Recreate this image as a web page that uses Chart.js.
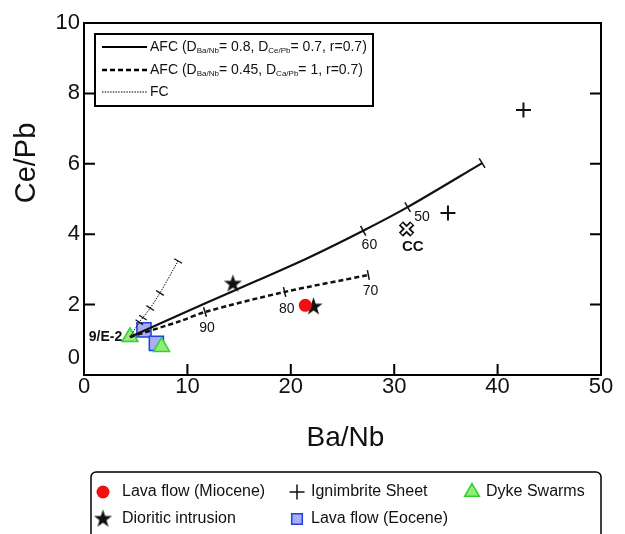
<!DOCTYPE html>
<html>
<head>
<meta charset="utf-8">
<script src="https://cdn.jsdelivr.net/npm/chart.js@4.4.1/dist/chart.umd.min.js"></script>
<style>
  html, body { margin: 0; padding: 0; background: #fff; }
  canvas { display: block; }
</style>
</head>
<body>
<canvas id="geoChart" width="625" height="534"></canvas>
<script>
// samples (Ba/Nb, Ce/Pb)
const lavaMioceneX = [21.4];
const lavaMioceneY = [1.98];
const dioriticX = [14.4, 22.2];
const dioriticY = [2.59, 1.94];
const ignimbriteX = [42.5, 35.2];
const ignimbriteY = [7.53, 4.60];
const lavaEoceneX = [5.8, 7.0];
const lavaEoceneY = [1.28, 0.90];
const dykeX = [4.45, 7.5];
const dykeY = [1.08, 0.80];
const ccX = [31.2];
const ccY = [4.15];

// model curves starting at 9/E-2
const afc1X = [4.45, 9.3, 14.4, 21.6, 27.0, 31.3, 38.5];
const afc1Y = [1.08, 1.72, 2.38, 3.32, 4.10, 4.77, 6.02];
const afc2X = [4.45, 9.3, 11.7, 19.4, 27.5];
const afc2Y = [1.08, 1.53, 1.79, 2.36, 2.84];
const fcX = [4.45, 5.35, 5.7, 6.4, 7.35, 9.1];
const fcY = [1.08, 1.50, 1.63, 1.90, 2.33, 3.24];

// F marks along the curves
const afc1TickX = [27.0, 31.3, 38.5];
const afc1TickY = [4.10, 4.77, 6.02];
const afc2TickX = [11.7, 19.4, 27.5];
const afc2TickY = [1.79, 2.36, 2.84];
const fcTickX = [5.35, 5.7, 6.4, 7.35, 9.1];
const fcTickY = [1.50, 1.63, 1.90, 2.33, 3.24];

const curveLabels = ["90", "80", "70", "60", "50", "CC", "9/E-2"];
const curveLabelX = [11.9, 19.6, 27.7, 27.6, 32.7, 31.8, 3.7];
const curveLabelY = [1.34, 1.88, 2.39, 3.69, 4.49, 3.64, 1.08];

const xTicks = [0, 10, 20, 30, 40, 50];
const yTicks = [0, 2, 4, 6, 8, 10];

const FONT = '"Liberation Sans", Arial, sans-serif';

function toPoints(xs, ys) {
  return xs.map((x, i) => ({ x: x, y: ys[i] }));
}

function makeStar(outer, inner, color) {
  const c = document.createElement('canvas');
  const s = Math.ceil(outer * 2 + 2);
  c.width = s;
  c.height = s;
  const g = c.getContext('2d');
  g.fillStyle = color;
  g.beginPath();
  for (let i = 0; i < 10; i++) {
    const r = i % 2 ? inner : outer;
    const ang = -Math.PI / 2 + i * Math.PI / 5;
    g.lineTo(s / 2 + r * Math.cos(ang), s / 2 + r * Math.sin(ang));
  }
  g.closePath();
  g.fill();
  return c;
}

const starImg = makeStar(9.5, 3.7, '#111');

// text with subscripts, parts = [[text, isSub], ...]
function drawRich(ctx, parts, x, y) {
  parts.forEach(p => {
    ctx.font = p[1] ? '8px ' + FONT : '14px ' + FONT;
    ctx.fillText(p[0], x, p[1] ? y + 4 : y);
    x += ctx.measureText(p[0]).width;
  });
}

function legendMarker(ctx, style, x, y, radius, fill, stroke, lw) {
  ctx.save();
  ctx.fillStyle = fill;
  ctx.strokeStyle = stroke;
  if (style instanceof HTMLCanvasElement) {
    ctx.drawImage(style, x - style.width / 2, y - style.height / 2);
  } else {
    Chart.helpers.drawPoint(ctx, { pointStyle: style, radius: radius, rotation: 0, borderWidth: lw }, x, y);
  }
  ctx.restore();
}

const frameAndLabels = {
  id: 'frameAndLabels',
  afterDraw(chart) {
    const ctx = chart.ctx;
    const xs = chart.scales.x;
    const ys = chart.scales.y;
    const a = chart.chartArea;
    ctx.save();

    // frame + inward ticks
    ctx.strokeStyle = '#000';
    ctx.lineWidth = 2;
    ctx.strokeRect(a.left, a.top, a.right - a.left, a.bottom - a.top);
    ctx.beginPath();
    xTicks.forEach(v => {
      const px = xs.getPixelForValue(v);
      ctx.moveTo(px, a.bottom);
      ctx.lineTo(px, a.bottom - 11);
    });
    yTicks.forEach(v => {
      const py = ys.getPixelForValue(v);
      ctx.moveTo(a.left, py);
      ctx.lineTo(a.left + 11, py);
      ctx.moveTo(a.right, py);
      ctx.lineTo(a.right - 11, py);
    });
    ctx.stroke();

    // tick labels
    ctx.fillStyle = '#111';
    ctx.font = '22px ' + FONT;
    ctx.textAlign = 'center';
    ctx.textBaseline = 'middle';
    xTicks.forEach(v => ctx.fillText(String(v), xs.getPixelForValue(v), a.bottom + 12));
    ctx.textAlign = 'right';
    yTicks.forEach((v, i) => {
      const py = ys.getPixelForValue(v) - (i === 0 ? 17 : 0);
      ctx.fillText(String(v), a.left - 4, py);
    });

    // axis titles
    ctx.font = '28px ' + FONT;
    ctx.textAlign = 'center';
    ctx.fillText('Ba/Nb', (a.left + a.right) / 2 + 3, 438);
    ctx.save();
    ctx.translate(27, 163);
    ctx.rotate(-Math.PI / 2);
    ctx.font = '29px ' + FONT;
    ctx.fillText('Ce/Pb', 0, 0);
    ctx.restore();

    // labels on the curves
    curveLabels.forEach((t, i) => {
      const bold = t === 'CC' || t === '9/E-2';
      ctx.font = (bold ? 'bold ' : '') + (t === 'CC' ? '15px ' : '14px ') + FONT;
      ctx.textAlign = t === '9/E-2' ? 'right' : 'center';
      ctx.fillText(t, xs.getPixelForValue(curveLabelX[i]), ys.getPixelForValue(curveLabelY[i]));
    });

    // model legend
    ctx.fillStyle = '#fff';
    ctx.fillRect(95, 34, 278, 72);
    ctx.lineWidth = 2;
    ctx.strokeRect(95, 34, 278, 72);
    const rows = [
      { y: 47, dash: [], lw: 2.2, parts: [['AFC (D', 0], ['Ba/Nb', 1], ['= 0.8, D', 0], ['Ce/Pb', 1], ['= 0.7, r=0.7)', 0]] },
      { y: 70, dash: [5, 3], lw: 2.5, parts: [['AFC (D', 0], ['Ba/Nb', 1], ['= 0.45, D', 0], ['Ca/Pb', 1], ['= 1, r=0.7)', 0]] },
      { y: 92, dash: [1.5, 1.2], lw: 1, parts: [['FC', 0]] }
    ];
    ctx.fillStyle = '#111';
    ctx.textAlign = 'left';
    rows.forEach(r => {
      ctx.beginPath();
      ctx.setLineDash(r.dash);
      ctx.lineWidth = r.lw;
      ctx.moveTo(102, r.y);
      ctx.lineTo(147, r.y);
      ctx.stroke();
      ctx.setLineDash([]);
      drawRich(ctx, r.parts, 150, r.y);
    });

    // sample legend
    ctx.lineWidth = 1.5;
    ctx.beginPath();
    ctx.roundRect(91, 472, 510, 80, 5);
    ctx.stroke();
    const items = [
      { x: 103, y: 492, label: 'Lava flow (Miocene)', style: 'circle', r: 6.5, fill: '#f01010', stroke: '#f01010', lw: 0 },
      { x: 297, y: 492, label: 'Ignimbrite Sheet', style: 'cross', r: 7.5, fill: '#111', stroke: '#111', lw: 1.8 },
      { x: 472, y: 492, label: 'Dyke Swarms', style: 'triangle', r: 8.5, fill: '#90ee78', stroke: '#30d030', lw: 1.5 },
      { x: 103, y: 519, label: 'Dioritic intrusion', style: starImg, r: 9, fill: '#111', stroke: '#111', lw: 0 },
      { x: 297, y: 519, label: 'Lava flow (Eocene)', style: 'rect', r: 7.5, fill: '#a9aef2', stroke: '#2040e0', lw: 1.5 }
    ];
    items.forEach(it => {
      legendMarker(ctx, it.style, it.x, it.y, it.r, it.fill, it.stroke, it.lw);
      ctx.fillStyle = '#111';
      ctx.font = '16px ' + FONT;
      ctx.textAlign = 'left';
      ctx.textBaseline = 'middle';
      ctx.fillText(it.label, it.x + (it.x < 200 ? 19 : 14), it.y);
    });

    ctx.restore();
  }
};

function curveSet(xs, ys, dash, width, order) {
  return {
    data: toPoints(xs, ys),
    showLine: true,
    borderColor: '#111',
    borderWidth: width,
    borderDash: dash,
    tension: 0.3,
    pointRadius: 0,
    pointHoverRadius: 0,
    order: order
  };
}

function tickSet(xs, ys, rotation, radius, width) {
  return {
    data: toPoints(xs, ys),
    pointStyle: 'line',
    rotation: rotation,
    pointRadius: radius,
    borderColor: '#111',
    borderWidth: width,
    order: 0
  };
}

let ctx = document.getElementById('geoChart').getContext('2d');
let chart = new Chart(ctx, {
  type: 'scatter',
  data: {
    datasets: [
      curveSet(afc1X, afc1Y, [], 2.2, 1),
      curveSet(afc2X, afc2Y, [5, 3], 2.5, 1),
      curveSet(fcX, fcY, [1.5, 1.2], 1, 1),
      tickSet(afc1TickX, afc1TickY, [62, 60, 58], 5.5, 1.5),
      tickSet(afc2TickX, afc2TickY, [74, 77, 79], 5, 1.5),
      tickSet(fcTickX, fcTickY, [33, 33, 33, 32, 30], 4.5, 1.3),
      {
        // continental crust
        data: toPoints(ccX, ccY),
        pointStyle: 'crossRot',
        pointRadius: 8,
        borderColor: '#111',
        borderWidth: 6,
        order: 3
      },
      {
        data: toPoints(ccX, ccY),
        pointStyle: 'crossRot',
        pointRadius: 6.8,
        borderColor: '#fff',
        borderWidth: 2.4,
        order: 2
      },
      {
        label: 'Ignimbrite Sheet',
        data: toPoints(ignimbriteX, ignimbriteY),
        pointStyle: 'cross',
        pointRadius: 7.5,
        borderColor: '#111',
        borderWidth: 2,
        order: 2
      },
      {
        label: 'Lava flow (Miocene)',
        data: toPoints(lavaMioceneX, lavaMioceneY),
        pointStyle: 'circle',
        pointRadius: 6.5,
        backgroundColor: '#f01010',
        borderColor: '#f01010',
        borderWidth: 0,
        order: 3
      },
      {
        label: 'Dioritic intrusion',
        data: toPoints(dioriticX, dioriticY),
        pointStyle: starImg,
        pointRadius: 9,
        order: 4
      },
      {
        label: 'Dyke Swarms',
        data: toPoints(dykeX, dykeY),
        pointStyle: 'triangle',
        pointRadius: 9.2,
        backgroundColor: '#90ee78',
        borderColor: '#30d030',
        borderWidth: 1.5,
        order: 5
      },
      {
        label: 'Lava flow (Eocene)',
        data: toPoints(lavaEoceneX, lavaEoceneY),
        pointStyle: 'rect',
        pointRadius: 10,
        backgroundColor: '#a9aef2',
        borderColor: '#2040e0',
        borderWidth: 1.5,
        order: 6
      }
    ]
  },
  options: {
    responsive: false,
    animation: false,
    layout: { padding: { left: 84, top: 23, right: 24, bottom: 159 } },
    plugins: { legend: { display: false }, tooltip: { enabled: false } },
    scales: {
      x: { type: 'linear', min: 0, max: 50, display: false },
      y: { type: 'linear', min: 0, max: 10, display: false }
    }
  },
  plugins: [frameAndLabels]
});
</script>
</body>
</html>
